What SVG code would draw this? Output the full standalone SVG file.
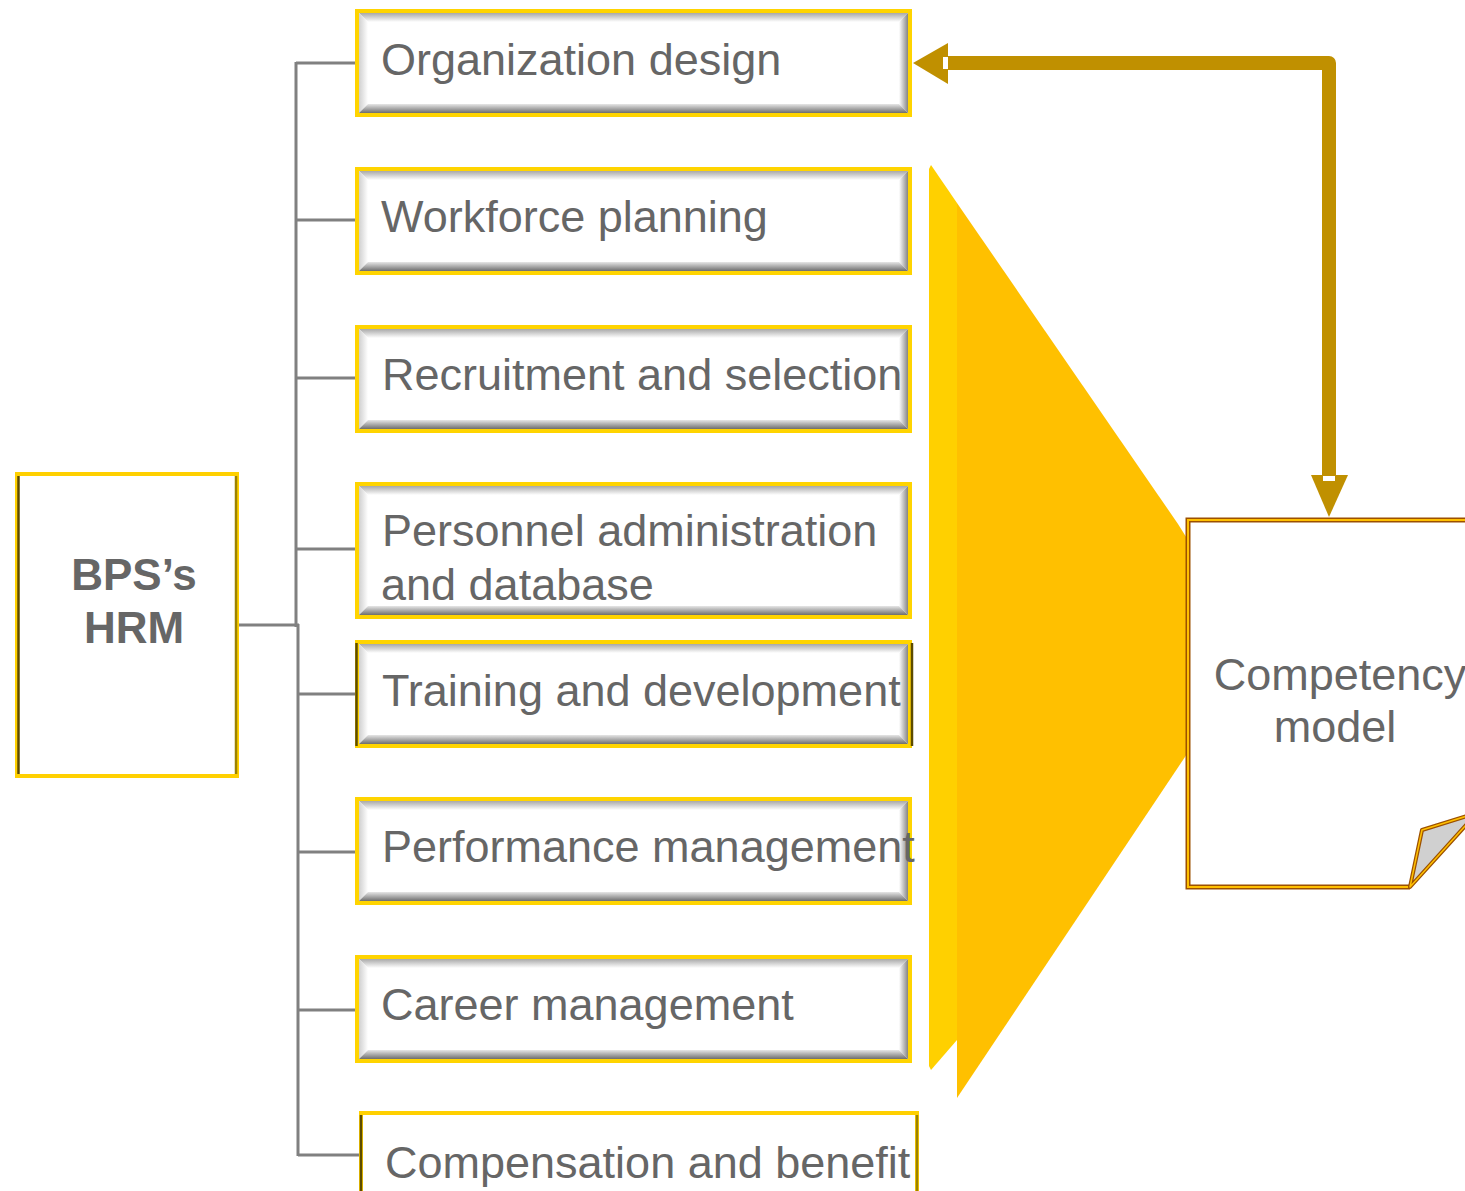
<svg xmlns="http://www.w3.org/2000/svg" width="1465" height="1191" viewBox="0 0 1465 1191">
<style>
.lbl{font-family:"Liberation Sans",Arial,sans-serif;font-size:45px;fill:#666666}
.hrm{font-family:"Liberation Sans",Arial,sans-serif;font-size:44px;font-weight:bold;fill:#666666}
.conn{stroke:#808080;stroke-width:3;fill:none}
.ybord{fill:none;stroke:#FFD400;stroke-width:4}
.dside{stroke:#5C4B00;stroke-width:2.5}
.oside{stroke:#9C8200;stroke-width:2.5}
</style>
<defs>
<linearGradient id="gTop" x1="0" y1="0" x2="0" y2="1"><stop offset="0" stop-color="#a8a8a8"/><stop offset="1" stop-color="#ffffff"/></linearGradient>
<linearGradient id="gLeft" x1="0" y1="0" x2="1" y2="0"><stop offset="0" stop-color="#d0d0d0"/><stop offset="1" stop-color="#ffffff"/></linearGradient>
<linearGradient id="gRight" x1="0" y1="0" x2="1" y2="0"><stop offset="0" stop-color="#ffffff"/><stop offset="1" stop-color="#858585"/></linearGradient>
<linearGradient id="gBot" x1="0" y1="0" x2="0" y2="1"><stop offset="0" stop-color="#e6e6e6"/><stop offset="1" stop-color="#6e6e6e"/></linearGradient>
<g id="box108">
<rect x="0" y="0" width="557" height="108" fill="#ffffff"/>
<polygon points="4,4 553,4 544,13 13,13" fill="url(#gTop)"/>
<polygon points="4,4 13,13 13,95 4,104" fill="url(#gLeft)"/>
<polygon points="553,4 553,104 544,95 544,13" fill="url(#gRight)"/>
<polygon points="4,104 553,104 544,95 13,95" fill="url(#gBot)"/>
<rect x="2" y="2" width="553" height="104" class="ybord"/>
</g>
</defs>

<g id="connectors">
<line class="conn" x1="296" y1="62" x2="296" y2="627"/>
<line class="conn" x1="298" y1="624" x2="298" y2="1156"/>
<line class="conn" x1="238" y1="625" x2="299" y2="625"/>
<line class="conn" x1="296" y1="63" x2="356" y2="63"/>
<line class="conn" x1="296" y1="220" x2="356" y2="220"/>
<line class="conn" x1="296" y1="378" x2="356" y2="378"/>
<line class="conn" x1="296" y1="549" x2="356" y2="549"/>
<line class="conn" x1="298" y1="694" x2="356" y2="694"/>
<line class="conn" x1="298" y1="852" x2="356" y2="852"/>
<line class="conn" x1="298" y1="1010" x2="356" y2="1010"/>
<line class="conn" x1="298" y1="1155" x2="360" y2="1155"/>
</g>

<g id="funnel">
<polygon points="931,165 957,203 957,1040 931,1070 929,1066 929,169" fill="#FFD000"/>
<polygon points="957,203 1178,524 1193,548 1193,745 957,1098" fill="#FFC000"/>
</g>

<g id="hrm">
<rect x="17" y="474" width="220" height="302" fill="#ffffff" stroke="#FFD000" stroke-width="4"/>
<line class="dside" x1="18.5" y1="476" x2="18.5" y2="774"/>
<line class="oside" x1="236" y1="476" x2="236" y2="774"/>
<text class="hrm" x="134" y="590" text-anchor="middle">BPS’s</text>
<text class="hrm" x="134" y="643" text-anchor="middle">HRM</text>
</g>

<g id="n1"><use href="#box108" x="355" y="9"/><text class="lbl" x="381" y="75">Organization design</text></g>
<g id="n2"><use href="#box108" x="355" y="167"/><text class="lbl" x="381" y="232">Workforce planning</text></g>
<g id="n3"><use href="#box108" x="355" y="325"/><text class="lbl" x="382" y="390">Recruitment and selection</text></g>
<g id="n4">
<rect x="355" y="482" width="557" height="137" fill="#ffffff"/>
<polygon points="359,486 908,486 899,495 368,495" fill="url(#gTop)"/>
<polygon points="359,486 368,495 368,606 359,615" fill="url(#gLeft)"/>
<polygon points="908,486 908,615 899,606 899,495" fill="url(#gRight)"/>
<polygon points="359,615 908,615 899,606 368,606" fill="url(#gBot)"/>
<rect x="357" y="484" width="553" height="133" class="ybord"/>
<text class="lbl" x="382" y="546">Personnel administration</text>
<text class="lbl" x="381" y="600">and database</text>
</g>
<g id="n5"><use href="#box108" x="355" y="640"/>
<line class="dside" x1="356.5" y1="643" x2="356.5" y2="746"/>
<line class="dside" x1="912" y1="643" x2="912" y2="746"/>
<text class="lbl" x="382" y="706">Training and development</text></g>
<g id="n6"><use href="#box108" x="355" y="797"/><text class="lbl" x="382" y="862">Performance management</text></g>
<g id="n7"><use href="#box108" x="355" y="955"/><text class="lbl" x="381" y="1020">Career management</text></g>
<g id="n8">
<rect x="361" y="1113" width="556" height="90" fill="#ffffff" stroke="#FFD000" stroke-width="4"/>
<line class="dside" x1="361" y1="1115" x2="361" y2="1191"/>
<line class="oside" x1="917" y1="1115" x2="917" y2="1191"/>
<text class="lbl" x="385" y="1178">Compensation and benefit</text>
</g>

<g id="competency">
<path d="M1470,520 H1188 V887 H1410" fill="#ffffff" stroke="#9C5000" stroke-width="5"/>
<path d="M1470,520 H1188 V887 H1410" fill="none" stroke="#FFC000" stroke-width="2"/>
<polygon points="1410,887 1422,830 1467,816 1467,824" fill="#D0D0D0" stroke="#9C5000" stroke-width="4" stroke-linejoin="round"/>
<polygon points="1410,887 1422,830 1467,816 1467,824" fill="none" stroke="#FFC000" stroke-width="1.5" stroke-linejoin="round"/>
<text class="lbl" x="1340" y="690" text-anchor="middle">Competency</text>
<text class="lbl" x="1335" y="742" text-anchor="middle">model</text>
</g>

<g id="arrow">
<path d="M946,63 H1329 V477" fill="none" stroke="#C09000" stroke-width="14" stroke-linejoin="round"/>
<polygon points="913,63 948,43 948,84" fill="#C09000"/>
<polygon points="1311,475 1348,475 1329,517" fill="#C09000"/>
<rect x="943" y="57" width="5" height="12" fill="#ffffff"/>
<rect x="1323" y="476" width="12" height="5" fill="#ffffff"/>
</g>
</svg>
